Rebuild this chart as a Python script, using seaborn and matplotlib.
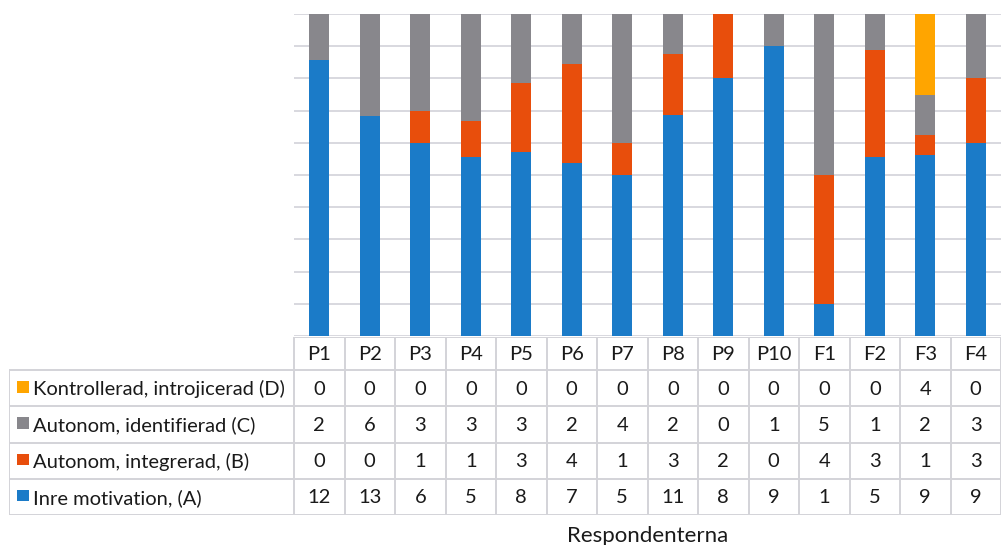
import numpy as np
import pandas as pd
import matplotlib
matplotlib.use("Agg")
import matplotlib.pyplot as plt
from matplotlib.patches import Rectangle
import seaborn as sns

# Respondents and answer counts per motivation category
respondents = ["P1", "P2", "P3", "P4", "P5", "P6", "P7", "P8", "P9", "P10",
               "F1", "F2", "F3", "F4"]
inre_a = [12, 13, 6, 5, 8, 7, 5, 11, 8, 9, 1, 5, 9, 9]
integrerad_b = [0, 0, 1, 1, 3, 4, 1, 3, 2, 0, 4, 3, 1, 3]
identifierad_c = [2, 6, 3, 3, 3, 2, 4, 2, 0, 1, 5, 1, 2, 3]
kontrollerad_d = [0, 0, 0, 0, 0, 0, 0, 0, 0, 0, 0, 0, 4, 0]

series_names = ["Inre motivation, (A)", "Autonom, integrerad, (B)",
                "Autonom, identifierad (C)", "Kontrollerad, introjicerad (D)"]
series_colors = ["#1B7BC8", "#E84E0C", "#88878C", "#FFA500"]
x_title = "Respondenterna"

sns.set_theme(style="white")
plt.rcParams["font.family"] = ["Lato", "DejaVu Sans"]

counts = pd.DataFrame(
    [inre_a, integrerad_b, identifierad_c, kontrollerad_d],
    index=series_names, columns=respondents,
)
shares = counts / counts.sum(axis=0)
cumulative = shares.cumsum(axis=0)

W, H = 1002, 545
fig = plt.figure(figsize=(W / 100, H / 100), dpi=100)

# Plot area (pixel geometry converted to figure fractions)
left_px, right_px = 294, 1001
top_px, bottom_px = 14, 336
ax = fig.add_axes([left_px / W, 1 - bottom_px / H,
                   (right_px - left_px) / W, (bottom_px - top_px) / H])

grid_color = "#D6D6DC"
for y in np.linspace(0, 1, 11):
    ax.axhline(y, color=grid_color, lw=1.3, zorder=0)

# 100 % stacked columns: draw the tallest cumulative layer first
for name, color in zip(series_names[::-1], series_colors[::-1]):
    sns.barplot(x=respondents, y=cumulative.loc[name].values, order=respondents,
                color=color, saturation=1, width=0.39, errorbar=None,
                edgecolor="none", linewidth=0, ax=ax, zorder=2)

ax.set_xlim(-0.5, len(respondents) - 0.5)
ax.set_ylim(0, 1)
ax.set_xticks([])
ax.set_yticks([])
ax.set_xlabel("")
ax.set_ylabel("")
for s in ax.spines.values():
    s.set_visible(False)

# Data table below the columns
tab_left_px, tab_top_px, tab_bottom_px = 9, 337, 515
tax = fig.add_axes([tab_left_px / W, 1 - tab_bottom_px / H,
                    (right_px - tab_left_px) / W, (tab_bottom_px - tab_top_px) / H])
col_w = (right_px - left_px) / len(respondents)
label_w = (left_px - tab_left_px) / col_w
x0 = -0.5 - label_w
x1 = len(respondents) - 0.5
head_h, row_h = 33, 36
total_h = head_h + row_h * len(series_names)
tax.set_xlim(x0, x1)
tax.set_ylim(total_h, 0)
tax.axis("off")

line_kw = dict(color="#D3D3D8", lw=1.4, solid_capstyle="butt")
tax.plot([-0.5, x1], [0, 0], **line_kw)
for r in range(len(series_names) + 1):
    y = head_h + r * row_h
    tax.plot([x0, x1], [y, y], **line_kw)
tax.plot([x0, x0], [head_h, total_h], **line_kw)
for i in range(len(respondents) + 1):
    tax.plot([i - 0.5, i - 0.5], [0, total_h], **line_kw)

fs = 14.5
text_color = "#1A1A1A"
for i, resp in enumerate(respondents):
    tax.text(i, head_h / 2 + 1, resp, ha="center", va="center",
             fontsize=fs, color=text_color)

table_rows = series_names[::-1]
table_colors = series_colors[::-1]
sq_w = 11.5 / col_w
for r, (name, color) in enumerate(zip(table_rows, table_colors)):
    yc = head_h + r * row_h + row_h / 2
    tax.add_patch(Rectangle((x0 + 8 / col_w, yc - 7), sq_w, 11.5,
                            facecolor=color, edgecolor="none"))
    tax.text(x0 + 24 / col_w, yc + 1, name, ha="left", va="center",
             fontsize=fs, color=text_color)
    for i, v in enumerate(counts.loc[name].values):
        tax.text(i, yc + 1, str(v), ha="center", va="center",
                 fontsize=fs, color=text_color)

fig.text((left_px + right_px) / 2 / W, 1 - 536 / H, x_title,
         ha="center", va="center", fontsize=16, color=text_color)

fig.savefig("out.png", dpi=100)
